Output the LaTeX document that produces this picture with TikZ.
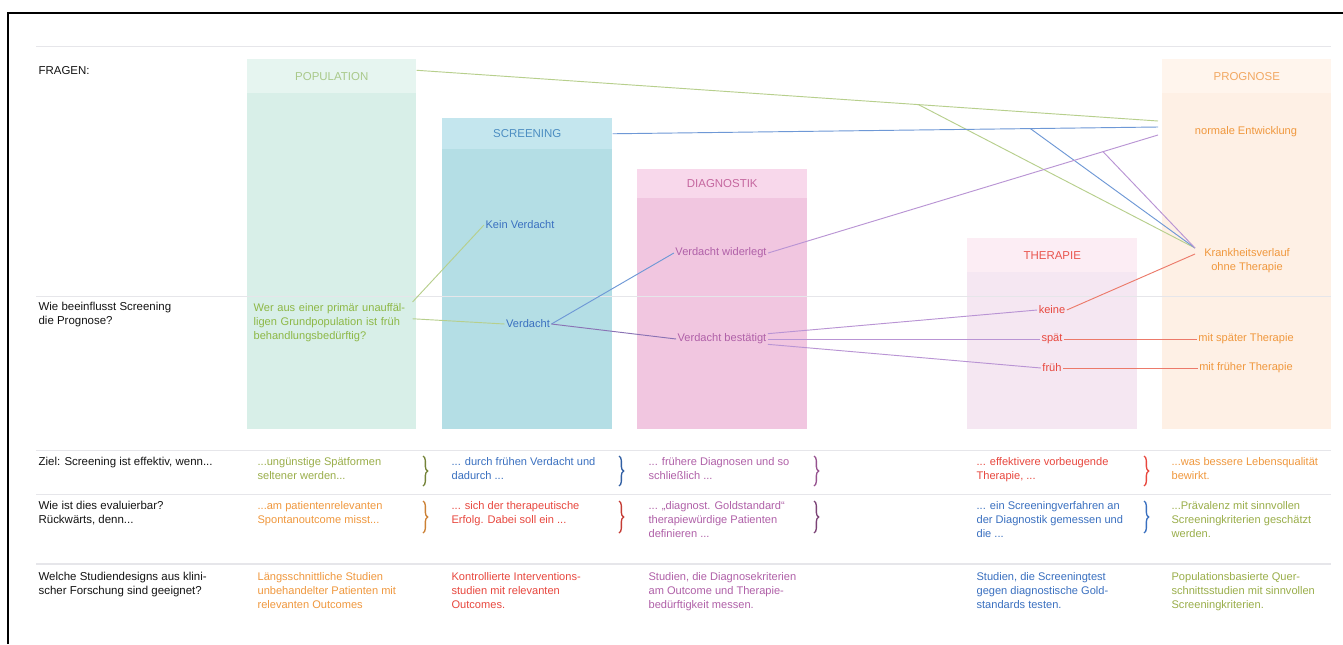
\documentclass[tikz,border=0pt]{standalone}
\usepackage{fontspec}
\setmainfont{Liberation Sans}
\usetikzlibrary{decorations.pathreplacing,calc}
\definecolor{popH}{HTML}{E6F5F0}
\definecolor{popB}{HTML}{D8EFE8}
\definecolor{scrH}{HTML}{C4E6EE}
\definecolor{scrB}{HTML}{B4DEE5}
\definecolor{diaH}{HTML}{F8D8EB}
\definecolor{diaB}{HTML}{F1C6E0}
\definecolor{thH}{HTML}{FCEDF4}
\definecolor{thB}{HTML}{F5E7F2}
\definecolor{prH}{HTML}{FFF5ED}
\definecolor{prB}{HTML}{FEF0E5}
\definecolor{hPop}{HTML}{A9C98A}
\definecolor{hScr}{HTML}{4D8EC2}
\definecolor{hDia}{HTML}{C5679F}
\definecolor{hTh}{HTML}{E9554E}
\definecolor{hPr}{HTML}{F2A862}
\definecolor{cGreen}{HTML}{8DB846}
\definecolor{cOlive}{HTML}{9AAE4A}
\definecolor{cBlue}{HTML}{3A70C0}
\definecolor{cPurple}{HTML}{B060A8}
\definecolor{cRed}{HTML}{E8473E}
\definecolor{cOrange}{HTML}{F0983E}
\definecolor{lGreen}{HTML}{B7CF8C}
\definecolor{lBlue}{HTML}{6E98D6}
\definecolor{lPurple}{HTML}{B994D4}
\definecolor{lMix}{HTML}{8A72B4}
\definecolor{lRed}{HTML}{EC7A6A}
\definecolor{gline}{HTML}{E6E6EA}
\begin{document}
\begin{tikzpicture}[x=0.75pt,y=-0.75pt,
  every node/.style={font=\fontsize{8.3}{10.5}\selectfont, inner sep=1pt},
  colhead/.style={anchor=north west, inner sep=0pt, font=\fontsize{8.6}{10}\selectfont},
  txt/.style={},
  lbl/.style={anchor=north west, align=left, text=black!92, font=\fontsize{8.6}{10.5}\selectfont},
  cell/.style={anchor=north west, align=left},
  conn/.style={line width=0.7pt},
  brc/.style={decorate, decoration={brace, amplitude=3.5pt}, line width=1pt}]
\useasboundingbox (0,0) rectangle (1343,644);
\fill[white] (0,0) rectangle (1343,644);
\draw[line width=1.1pt] (8,644) -- (8,13) -- (1343,13);

% columns
\fill[popB] (247,93) rectangle (416,429);
\node[colhead, fill=popH, minimum width=126.75pt, minimum height=25.5pt, text=hPop] (pophead) at (247,59) {POPULATION};
\fill[scrB] (442,149) rectangle (612,429);
\node[colhead, fill=scrH, minimum width=127.5pt, minimum height=23.25pt, text=hScr] (scrhead) at (442,118) {SCREENING};
\fill[diaB] (637,198) rectangle (807,429);
\node[colhead, fill=diaH, minimum width=127.5pt, minimum height=21.75pt, text=hDia] (diahead) at (637,169) {DIAGNOSTIK};
\fill[thB] (967,272) rectangle (1137,429);
\node[colhead, fill=thH, minimum width=127.5pt, minimum height=25.5pt, text=hTh] (thhead) at (967,238) {THERAPIE};
\fill[prB] (1162,93) rectangle (1331,429);
\node[colhead, fill=prH, minimum width=126.75pt, minimum height=25.5pt, text=hPr] (prhead) at (1162,59) {PROGNOSE};

% grid lines
\draw[gline, line width=0.7pt] (36,46) -- (1331,46);
\draw[gline, line width=0.7pt] (36,296) -- (1331,296);
\draw[gline, line width=0.7pt] (36,450) -- (1331,450);
\draw[gline, line width=0.7pt] (36,494) -- (1331,494);
\draw[gline, line width=0.9pt] (36,564) -- (1331,564);

% left questions
\node[lbl, anchor=west] (fragen) at (37,71) {FRAGEN:};
\node[lbl] (q1) at (37,301) {Wie beeinflusst Screening\\die Prognose?};

% diagram texts
\node[txt, text=cGreen, anchor=north west, text width=118pt, align=left] (poptext) at (252,302) {Wer aus einer primär unauffäl-\\ligen Grundpopulation ist früh\\behandlungsbedürftig?};
\node[txt, text=cBlue] (kein) at (520,225) {Kein Verdacht};
\node[txt, text=cBlue] (verd) at (528,324) {Verdacht};
\node[txt, text=cPurple] (widerl) at (721,253) {Verdacht widerlegt};
\node[txt, text=cPurple] (best) at (722,339) {Verdacht bestätigt};
\node[txt, text=cRed] (keine) at (1052,310) {keine};
\node[txt, text=cRed] (spaet) at (1052,339) {spät};
\node[txt, text=cRed] (frueh) at (1052,368) {früh};
\node[txt, text=cOrange] (normal) at (1246,132) {normale Entwicklung};
\node[txt, text=cOrange, align=center] (ohne) at (1247,261) {Krankheitsverlauf\\ohne Therapie};
\node[txt, text=cOrange] (mspaet) at (1246,339) {mit später Therapie};
\node[txt, text=cOrange] (mfrueh) at (1246,368) {mit früher Therapie};

% free ends at the prognosis column
\coordinate (ne1) at (1158,121);
\coordinate (ne2) at (1158,127);
\coordinate (ne3) at (1158,135);
\coordinate (oin) at (1195,248);

% connectors
\draw[conn, lGreen] ([yshift=4.5pt]pophead.east) -- coordinate[pos=0.677] (b1) (ne1);
\draw[conn, lGreen] (b1) -- (oin);
\draw[conn, lBlue] (scrhead.east) -- coordinate[pos=0.766] (b2) (ne2);
\draw[conn, lBlue] (b2) -- (oin);
\draw[conn, lPurple] (widerl.east) -- coordinate[pos=0.859] (b3) (ne3);
\draw[conn, lPurple] (b3) -- (oin);
\draw[conn, lGreen] (poptext.north east) -- (kein.west);
\draw[conn, lGreen] ([yshift=3pt]poptext.east) -- (verd.west);
\draw[conn, lBlue] (verd.east) -- (widerl.west);
\draw[conn, lMix] (verd.east) -- (best.west);
\draw[conn, lPurple] ([yshift=4pt]best.east) -- (keine.west);
\draw[conn, lPurple] (best.east) -- (spaet.west);
\draw[conn, lPurple] ([yshift=-4pt]best.east) -- (frueh.west);
\draw[conn, lRed] (keine.east) -- ($(oin)+(0,6)$);
\draw[conn, lRed] (spaet.east) -- (mspaet.west);
\draw[conn, lRed] (frueh.east) -- (mfrueh.west);

% table row labels
\node[lbl] (r1) at (37,456) {Ziel: Screening ist effektiv, wenn...};
\node[lbl] (r2) at (37,500) {Wie ist dies evaluierbar?\\Rückwärts, denn...};
\node[lbl] (r3) at (37,571) {Welche Studiendesigns aus klini-\\scher Forschung sind geeignet?};

% row 1
\node[cell, text=cOlive] (c11) at (256,456) {...ungünstige Spätformen\\seltener werden...};
\node[cell, text=cBlue] (c12) at (450,456) {... durch frühen Verdacht und\\dadurch ...};
\node[cell, text=cPurple] (c13) at (647,456) {... frühere Diagnosen und so\\schließlich ...};
\node[cell, text=cRed] (c14) at (975,456) {... effektivere vorbeugende\\Therapie, ...};
\node[cell, text=cOrange] (c15) at (1170,456) {...was bessere Lebensqualität\\bewirkt.};
% row 2
\node[cell, text=cOrange] (c21) at (256,500) {...am patientenrelevanten\\Spontanoutcome misst...};
\node[cell, text=cRed] (c22) at (450,500) {... sich der therapeutische\\Erfolg. Dabei soll ein ...};
\node[cell, text=cPurple] (c23) at (647,500) {... „diagnost. Goldstandard“\\therapiewürdige Patienten\\definieren ...};
\node[cell, text=cBlue] (c24) at (975,500) {... ein Screeningverfahren an\\der Diagnostik gemessen und\\die ...};
\node[cell, text=cOlive] (c25) at (1170,500) {...Prävalenz mit sinnvollen\\Screeningkriterien geschätzt\\werden.};
% row 3
\node[cell, text=cOrange] (c31) at (256,571) {Längsschnittliche Studien\\unbehandelter Patienten mit\\relevanten Outcomes};
\node[cell, text=cRed] (c32) at (450,571) {Kontrollierte Interventions-\\studien mit relevanten\\Outcomes.};
\node[cell, text=cPurple] (c33) at (647,571) {Studien, die Diagnosekriterien\\am Outcome und Therapie-\\bedürftigkeit messen.};
\node[cell, text=cBlue] (c34) at (975,571) {Studien, die Screeningtest\\gegen diagnostische Gold-\\standards testen.};
\node[cell, text=cOlive] (c35) at (1170,571) {Populationsbasierte Quer-\\schnittsstudien mit sinnvollen\\Screeningkriterien.};

% braces
\draw[brc, cOlive!75!black] (423,456) -- (423,486);
\draw[brc, cBlue!85!black] (619,456) -- (619,486);
\draw[brc, cPurple!85!black] (814,456) -- (814,486);
\draw[brc, cRed] (1144,456) -- (1144,486);
\draw[brc, cOrange!85!black] (423,501) -- (423,533);
\draw[brc, cRed!85!black] (619,501) -- (619,533);
\draw[brc, cPurple!70!black] (814,501) -- (814,533);
\draw[brc, cBlue] (1144,501) -- (1144,533);
\end{tikzpicture}
\end{document}
